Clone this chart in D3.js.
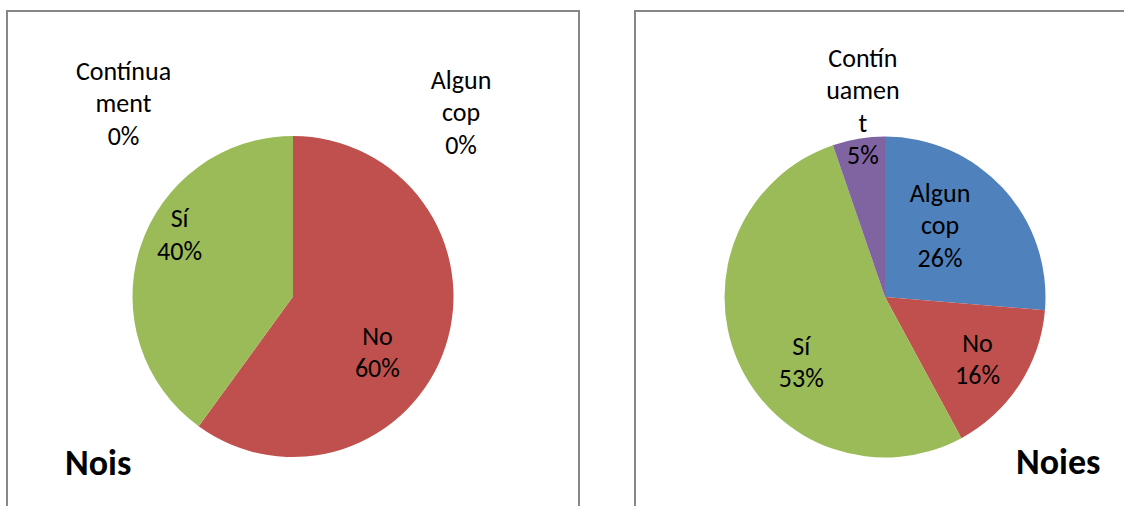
<!DOCTYPE html>
<html>
<head>
<meta charset="utf-8">
<script src="https://cdn.jsdelivr.net/npm/d3@7"></script>
<style>
  body { margin: 0; background: #fff; }
  svg { display: block; font-family: Carlito, Lato, "Liberation Sans", sans-serif; }
</style>
</head>
<body>
<div class="chart"></div>
<script>
var width = 1124;
var height = 506;

// data
var categories = ["Algun cop", "No", "Sí", "Contínuament"];
var noisValues = [0, 6, 4, 0];
var noiesValues = [5, 3, 10, 1];
var colors = ["#4F81BD", "#C0504D", "#9BBB59", "#8064A2"];

// wrapped category names as shown in the labels
var noisLabelLines = [["Algun", "cop"], ["No"], ["Sí"], ["Contínua", "ment"]];
var noiesLabelLines = [["Algun", "cop"], ["No"], ["Sí"], ["Contín", "uamen", "t"]];

// layout for each chart (box, pie centre, label nudges from centroid)
var charts = [
  { title: "Nois", values: noisValues, lines: noisLabelLines,
    box: { x: 7, y: 11, w: 572 }, cx: 293, cy: 296.5,
    titleX: 65, titleY: 475, titleAnchor: "start",
    nudge: [[168, -104], [-14.5, 16], [-14.5, -37], [-169.5, -113]] },
  { title: "Noies", values: noiesValues, lines: noiesLabelLines,
    box: { x: 635, y: 11, w: 600 }, cx: 885, cy: 297,
    titleX: 1016, titleY: 474, titleAnchor: "start",
    nudge: [[-21.5, -24.6], [5.5, -2], [11.5, 16], [-5, -127.5]] }
];

var radius = 160.5;
var lineGap = 32.5;

var color = d3.scaleOrdinal().domain(categories).range(colors);
var pie = d3.pie().sort(null).value(function(d) { return d.value; });
var arc = d3.arc().innerRadius(0).outerRadius(radius);
var labelArc = d3.arc().innerRadius(104).outerRadius(104);

var svg = d3.select(".chart").append("svg")
            .attr("width", width)
            .attr("height", height);

charts.forEach(function(c) {
  var total = d3.sum(c.values);
  var rows = categories.map(function(name, i) {
    return { name: name, value: c.values[i], lines: c.lines[i], nudge: c.nudge[i] };
  });

  svg.append("rect")
     .attr("x", c.box.x)
     .attr("y", c.box.y)
     .attr("width", c.box.w)
     .attr("height", 600)
     .attr("fill", "none")
     .attr("stroke", "#878787")
     .attr("stroke-width", 2);

  var g = svg.append("g").attr("transform", "translate(" + c.cx + "," + c.cy + ")");
  var arcs = pie(rows);

  g.selectAll("path")
   .data(arcs.filter(function(d) { return d.data.value > 0; }))
   .enter()
   .append("path")
   .attr("d", arc)
   .attr("fill", function(d) { return color(d.data.name); });

  var labels = g.selectAll("text.lbl")
    .data(arcs)
    .enter()
    .append("text")
    .attr("class", "lbl")
    .attr("text-anchor", "middle")
    .attr("font-size", 26)
    .attr("fill", "#000")
    .attr("transform", function(d) {
      var p = labelArc.centroid(d);
      return "translate(" + (p[0] + d.data.nudge[0]) + "," + (p[1] + d.data.nudge[1]) + ")";
    });

  labels.each(function(d) {
    var t = d3.select(this);
    var pct = Math.round(d.data.value / total * 100) + "%";
    d.data.lines.concat([pct]).forEach(function(line, i) {
      t.append("tspan").attr("x", 0).attr("y", i * lineGap).text(line);
    });
  });

  svg.append("text")
     .attr("x", c.titleX)
     .attr("y", c.titleY)
     .attr("text-anchor", c.titleAnchor)
     .attr("font-size", 36)
     .attr("font-weight", "bold")
     .attr("fill", "#000")
     .text(c.title);
});
</script>
</body>
</html>
